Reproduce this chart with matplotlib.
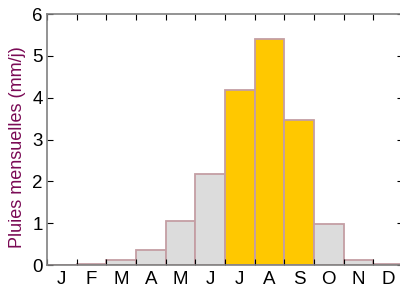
"""
plot.py

Pluies mensuelles - bar chart of monthly rainfall.
"""
import matplotlib
import matplotlib.pyplot as plt
import numpy as np

matplotlib.use('Agg')

# Data
months = ['J', 'F', 'M', 'A', 'M', 'J', 'J', 'A', 'S', 'O', 'N', 'D']
rain = [0.01, 0.03, 0.11, 0.37, 1.06, 2.18, 4.19, 5.41, 3.46, 0.98, 0.11, 0.02]
wet_season = [False, False, False, False, False, False, True, True, True, False, False, False]

GRAY = '#dcdcdc'
GOLD = '#ffc800'
EDGE = '#c49ea4'
LABEL_COLOR = '#7a0a55'

plt.rcParams['font.family'] = ['Liberation Sans', 'DejaVu Sans']

fig = plt.figure(figsize=(4.0, 2.84), dpi=100)
ax = fig.add_axes([0.1175, 0.0669, 0.89, 0.8838])

x = np.arange(1, len(months) + 1)
colors = [GOLD if w else GRAY for w in wet_season]
ax.bar(x, rain, width=1.0, color=colors, edgecolor=EDGE, linewidth=1.3)

ax.set_xlim(0.5, 12.5)
ax.set_ylim(0, 6)

# boundaries get the tick marks, centres get the labels
ax.set_xticks(np.arange(0.5, 13, 1.0))
ax.set_xticklabels([])
ax.set_xticks(x, minor=True)
ax.set_xticklabels(months, minor=True)
ax.tick_params(axis='x', which='minor', length=0, pad=4, labelsize=13.5)
ax.tick_params(axis='x', which='major', direction='in', length=4, top=True, bottom=True)

ax.set_yticks(range(0, 7))
ax.tick_params(axis='y', direction='in', length=4, left=True, right=True, labelsize=13.5, pad=3)

for spine in ax.spines.values():
    spine.set_color('#808080')
    spine.set_linewidth(1.2)

ax.set_ylabel('Pluies mensuelles (mm/j)', color=LABEL_COLOR, fontsize=13)
ax.yaxis.set_label_coords(-0.058, 0.468)

fig.savefig('out.png', dpi=100)
